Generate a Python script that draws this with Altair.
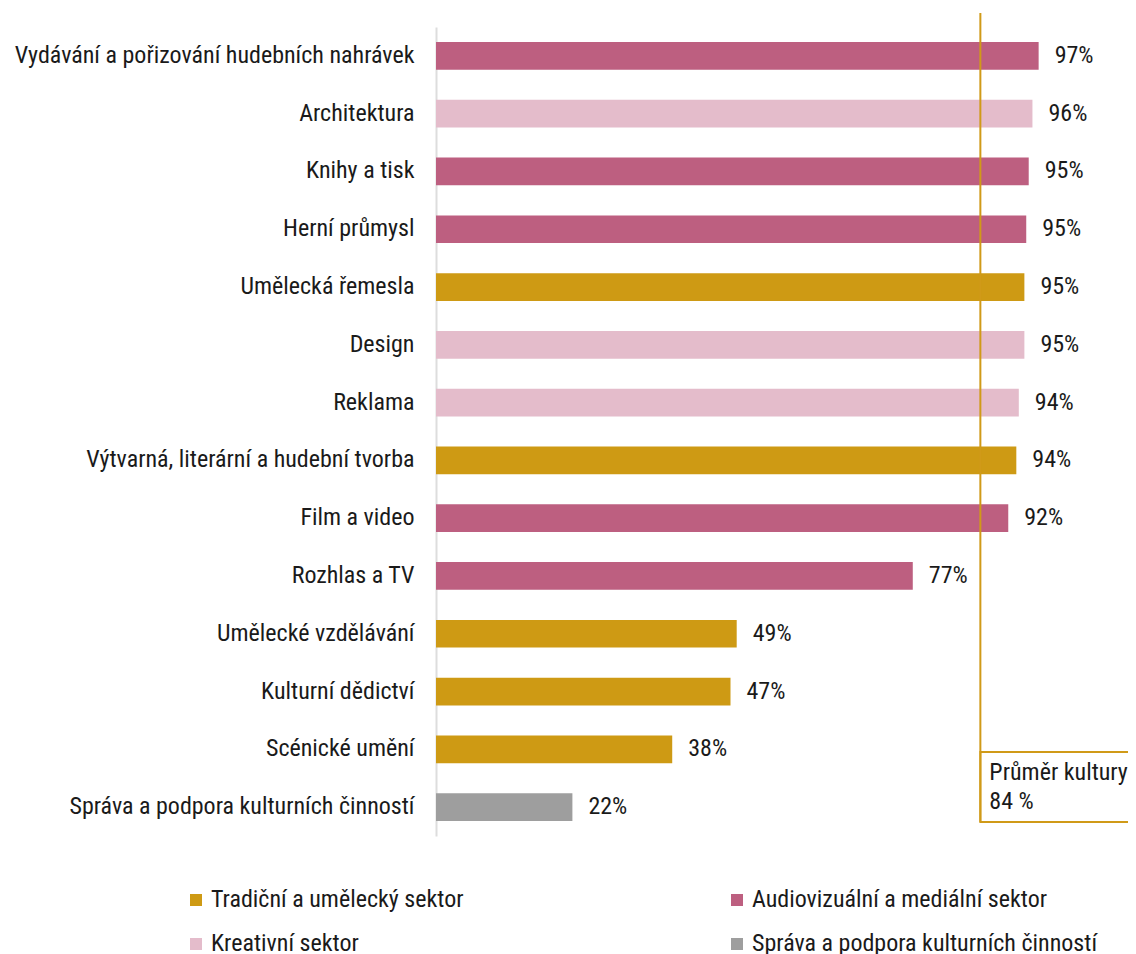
import altair as alt
import pandas as pd

categories = [
    "Vydávání a pořizování hudebních nahrávek",
    "Architektura",
    "Knihy a tisk",
    "Herní průmysl",
    "Umělecká řemesla",
    "Design",
    "Reklama",
    "Výtvarná, literární a hudební tvorba",
    "Film a video",
    "Rozhlas a TV",
    "Umělecké vzdělávání",
    "Kulturní dědictví",
    "Scénické umění",
    "Správa a podpora kulturních činností",
]
values = [97.2, 96.2, 95.6, 95.2, 94.9, 94.9, 94.0, 93.6, 92.3, 76.9, 48.5, 47.5, 38.1, 22.0]
value_labels = ["97%", "96%", "95%", "95%", "95%", "95%", "94%", "94%", "92%", "77%", "49%", "47%", "38%", "22%"]
sectors = [
    "Audiovizuální a mediální sektor",
    "Kreativní sektor",
    "Audiovizuální a mediální sektor",
    "Audiovizuální a mediální sektor",
    "Tradiční a umělecký sektor",
    "Kreativní sektor",
    "Kreativní sektor",
    "Tradiční a umělecký sektor",
    "Audiovizuální a mediální sektor",
    "Audiovizuální a mediální sektor",
    "Tradiční a umělecký sektor",
    "Tradiční a umělecký sektor",
    "Tradiční a umělecký sektor",
    "Správa a podpora kulturních činností",
]
# legend order (filled column by column: left column first)
sector_names = [
    "Tradiční a umělecký sektor",
    "Kreativní sektor",
    "Audiovizuální a mediální sektor",
    "Správa a podpora kulturních činností",
]
sector_colors = ["#CE9A14", "#E4BCCB", "#BD5F80", "#9E9E9E"]

avg_position = [87.8]
avg_text = ["Průměr kultury", "84 %"]

FONT = "Roboto Condensed, Liberation Sans Narrow, Roboto"
FS = 24
GOLD = "#D09A18"
TEXT = "#1a1a1a"

df = pd.DataFrame({
    "kategorie": categories,
    "hodnota": values,
    "popisek": value_labels,
    "sektor": sectors,
})
avg_df = pd.DataFrame({"pozice": avg_position})

xscale = alt.Scale(domain=[0, 100], nice=False, zero=True)
yscale = alt.Scale(paddingInner=0.52, paddingOuter=0.26)

base = alt.Chart(df)

bars = base.mark_bar().encode(
    y=alt.Y("kategorie:N", sort=categories, scale=yscale,
            axis=alt.Axis(title=None, ticks=False, labelPadding=22, labelFontSize=FS,
                          labelFont=FONT, labelColor=TEXT, domainColor="#DDDDDD",
                          domainWidth=2, labelLimit=600)),
    x=alt.X("hodnota:Q", scale=xscale, axis=None),
    color=alt.Color("sektor:N", scale=alt.Scale(domain=sector_names, range=sector_colors),
                    legend=alt.Legend(title=None, orient="none", legendX=-252, legendY=861,
                                      columns=2, symbolType="square", symbolSize=144,
                                      symbolStrokeWidth=0, labelFontSize=FS, labelFont=FONT,
                                      labelColor=TEXT, labelOffset=3, rowPadding=20,
                                      columnPadding=261, padding=0, labelLimit=600)),
)

labels = base.mark_text(align="left", baseline="middle", dx=16, fontSize=FS,
                        font=FONT, color=TEXT).encode(
    y=alt.Y("kategorie:N", sort=categories, scale=yscale),
    x=alt.X("hodnota:Q", scale=xscale, axis=None),
    text="popisek:N",
)

rule = alt.Chart(avg_df).mark_rule(color=GOLD, strokeWidth=2).encode(
    x=alt.X("pozice:Q", scale=xscale, axis=None),
    y=alt.value(-14),
    y2=alt.value(795),
)

box = alt.Chart(avg_df).mark_rect(fill="white", stroke=GOLD, strokeWidth=2).encode(
    x=alt.X("pozice:Q", scale=xscale, axis=None),
    x2=alt.value(720),
    y=alt.value(725),
    y2=alt.value(795),
)

box_text = alt.Chart(avg_df).mark_text(align="left", baseline="middle", dx=9, fontSize=FS,
                                       font=FONT, color=TEXT, lineHeight=29,
                                       text=avg_text).encode(
    x=alt.X("pozice:Q", scale=xscale, axis=None),
    y=alt.value(746),
)

chart = alt.layer(bars, labels, box, rule, box_text).properties(
    width=620,
    height=809,
    padding={"left": 428, "top": 19, "right": 72, "bottom": 122},
    autosize=alt.AutoSizeParams(type="none"),
    background="white",
).configure_view(stroke=None)

chart.save("out.html", embed_options={"renderer": "svg", "actions": False})
